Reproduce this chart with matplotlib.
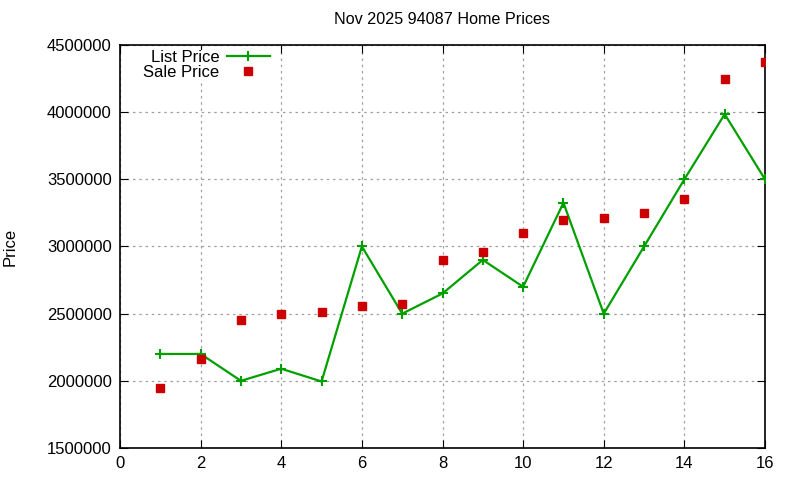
import matplotlib
matplotlib.use("Agg")
import matplotlib.pyplot as plt

x = list(range(1, 17))
list_price = [2200000, 2200000, 2000000, 2090000, 1995000, 3000000, 2500000, 2650000,
              2900000, 2700000, 3325000, 2500000, 3000000, 3500000, 3985000, 3500000]
sale_price = [1950000, 2160000, 2450000, 2500000, 2510000, 2560000, 2575000, 2900000,
              2960000, 3100000, 3200000, 3210000, 3250000, 3350000, 4250000, 4370000]
title = "Nov 2025 94087 Home Prices"
xticks = [0, 2, 4, 6, 8, 10, 12, 14, 16]
yticks = [1500000, 2000000, 2500000, 3000000, 3500000, 4000000, 4500000]

plt.rcParams['font.family'] = ['Liberation Sans', 'DejaVu Sans']
fig = plt.figure(figsize=(8, 4.8), dpi=100)
ax = fig.add_axes([0.15, 0.0667, 0.80625, 0.8396])

ax.plot(x, list_price, color='#00a000', lw=1.6, marker='+', ms=7, mew=1.5, label='List Price', zorder=3)
ax.plot(x, sale_price, color='#cc0000', ls='none', marker='s', ms=5.3, label='Sale Price', zorder=3)

ax.set_xlim(0, 16)
ax.set_ylim(1500000, 4500000)
ax.set_xticks(xticks)
ax.set_yticks(yticks)
ax.set_yticklabels([str(v) for v in yticks])
ax.tick_params(direction='in', top=True, right=True, labelsize=12, length=6, pad=6)
ax.grid(True, color='#a0a0a0', ls=(0, (2, 3)), lw=0.9)
for s in ax.spines.values():
    s.set_linewidth(1.2)
ax.set_title(title, fontsize=11.6, pad=15)
ax.set_ylabel('Price', fontsize=12, labelpad=21)

leg = fig.legend(loc='upper right', bbox_to_anchor=(270/800, 1 - 50/480), markerfirst=False, frameon=True,
                 fontsize=12, handlelength=2.6, borderpad=0.0, labelspacing=0.0, handletextpad=0.45,
                 borderaxespad=0.0, facecolor='white', edgecolor='none', framealpha=1.0, fancybox=False)
for t in leg.get_texts():
    t.set_ha('right')
leg._legend_box.align = 'right'

fig.savefig('out.png', dpi=100)
